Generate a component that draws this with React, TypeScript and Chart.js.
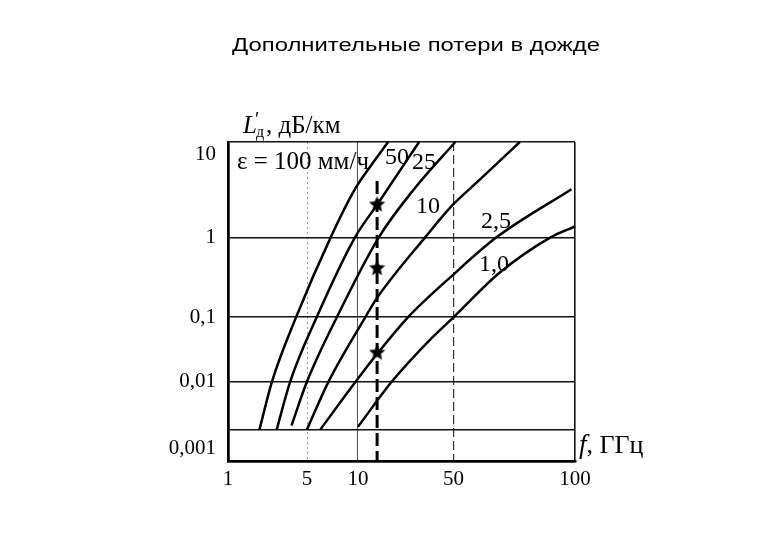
import React, { useEffect, useRef } from 'react';
import { Chart, Scale, registerables } from 'chart.js';

// ---------------- data ----------------
const TITLE = 'Дополнительные потери в дожде';
const Y_TITLE_MAIN = 'L';
const Y_TITLE_SUB = 'д';
const Y_TITLE_REST = ', дБ/км';
const X_TITLE_MAIN = 'f';
const X_TITLE_REST = ', ГГц';

const FREQ_TICKS = [1, 5, 10, 50, 100];
const FREQ_TICK_LABELS = ['1', '5', '10', '50', '100'];
const LOSS_TICKS = [0.001, 0.0025, 0.01, 0.1, 1, 10];
const LOSS_TICK_LABELS = ['0,001', '', '0,01', '0,1', '1', '10'];

// rain intensity curves (frequency GHz, specific loss dB/km)
const freq_100 = [1.9, 2.45, 4.0, 6.9, 9.6, 12.6, 16.6];
const loss_100 = [0.0025, 0.01, 0.1, 1, 3.2, 5.8, 10];
const freq_50 = [2.7, 3.55, 5.7, 9.6, 13.8, 28];
const loss_50 = [0.0025, 0.01, 0.1, 1, 2.2, 10];
const freq_25 = [3.65, 5.0, 7.5, 14.2, 25.7, 50.5];
const loss_25 = [0.0028, 0.01, 0.1, 1, 3.2, 10];
const freq_10 = [5.0, 6.7, 11.3, 13.8, 31, 49.5, 58, 73];
const loss_10 = [0.0025, 0.01, 0.1, 0.175, 1, 2.2, 4.0, 10];
const freq_2_5 = [6.0, 9.7, 14.0, 23.2, 49.6, 63.9, 98];
const loss_2_5 = [0.0025, 0.01, 0.028, 0.1, 0.34, 1, 3.2];
const freq_1_0 = [10, 17.7, 33.7, 50, 65, 87, 100];
const loss_1_0 = [0.0027, 0.01, 0.045, 0.1, 0.36, 1, 1.3];

const CURVE_FREQS = [freq_100, freq_50, freq_25, freq_10, freq_2_5, freq_1_0];
const CURVE_LOSSES = [loss_100, loss_50, loss_25, loss_10, loss_2_5, loss_1_0];

// curve labels
const CURVE_LABELS = ['ε = 100 мм/ч', '50', '25', '10', '2,5', '1,0'];
const CURVE_LABEL_FREQ = [1.2, 19.3, 30.4, 32.5, 63.7, 63];
const CURVE_LABEL_LOSS = [6.1, 6.9, 6.1, 2.1, 1.46, 0.455];

// marked frequency
const GUIDE_FREQ = [13.8, 13.8];
const GUIDE_LOSS = [3.9, 0.001];
const STAR_FREQ = [13.8, 13.8, 13.8];
const STAR_LOSS = [2.2, 0.41, 0.028];

// ---------------- non-uniform log axes of the original drawing ----------------
const AXIS_WARP: Record<string, { values: number[]; pos: number[]; ticks: number[] }> = {
  x: { values: [1, 5, 10, 50, 100], pos: [0, 0.2277, 0.3746, 0.6499, 1], ticks: FREQ_TICKS },
  y: { values: [0.001, 0.01, 0.1, 1, 10], pos: [0, 0.249, 0.4505, 0.7011, 1], ticks: LOSS_TICKS },
};

function toDecimal(w: { values: number[]; pos: number[] }, v: number) {
  const lv = Math.log10(Math.max(v, 1e-12));
  const L = w.values.map((a) => Math.log10(a));
  let i = 0;
  while (i < L.length - 2 && lv > L[i + 1]) i++;
  const t = (lv - L[i]) / (L[i + 1] - L[i]);
  return w.pos[i] + t * (w.pos[i + 1] - w.pos[i]);
}

function fromDecimal(w: { values: number[]; pos: number[] }, d: number) {
  const L = w.values.map((a) => Math.log10(a));
  let i = 0;
  while (i < w.pos.length - 2 && d > w.pos[i + 1]) i++;
  const t = (d - w.pos[i]) / (w.pos[i + 1] - w.pos[i]);
  return Math.pow(10, L[i] + t * (L[i + 1] - L[i]));
}

class WarpedLogScale extends Scale {
  static id = 'warpedLog';
  static defaults = {};
  parse(raw: any) {
    const v = Number(raw);
    return Number.isFinite(v) ? v : null;
  }
  determineDataLimits() {
    const w = AXIS_WARP[(this as any).id];
    (this as any).min = w.values[0];
    (this as any).max = w.values[w.values.length - 1];
  }
  buildTicks() {
    const w = AXIS_WARP[(this as any).id];
    return w.ticks.map((v) => ({ value: v }));
  }
  getLabelForValue(v: number) {
    return String(v);
  }
  getPixelForValue(v: number) {
    const w = AXIS_WARP[(this as any).id];
    return (this as any).getPixelForDecimal(toDecimal(w, v));
  }
  getValueForPixel(p: number) {
    const w = AXIS_WARP[(this as any).id];
    return fromDecimal(w, (this as any).getDecimalForPixel(p));
  }
}

Chart.register(...registerables, WarpedLogScale as any);

const SERIF = '"Liberation Serif", "Times New Roman", "DejaVu Serif", serif';
const SANS = '"Liberation Sans", Arial, "DejaVu Sans", sans-serif';

function makeStar(size: number) {
  const c = document.createElement('canvas');
  c.width = size;
  c.height = size;
  const g = c.getContext('2d')!;
  g.fillStyle = '#000';
  g.beginPath();
  for (let i = 0; i < 10; i++) {
    const r = i % 2 === 0 ? size / 2 : size / 4.4;
    const a = -Math.PI / 2 + (i * Math.PI) / 5;
    g.lineTo(size / 2 + r * Math.cos(a), size / 2 + r * Math.sin(a));
  }
  g.closePath();
  g.fill();
  return c;
}

const xGridStyle = (v: number) => {
  if (v === 5) return { color: '#9a9a9a', width: 1, dash: [2, 3] };
  if (v === 10) return { color: '#555', width: 1, dash: [] as number[] };
  if (v === 50) return { color: '#333', width: 1.2, dash: [9, 4] };
  if (v === 100) return { color: '#111', width: 1.6, dash: [] as number[] };
  return { color: '#000', width: 2.5, dash: [] as number[] };
};

const textPlugin = {
  id: 'chartTexts',
  afterDraw(chart: any) {
    const ctx: CanvasRenderingContext2D = chart.ctx;
    const xs = chart.scales.x;
    const ys = chart.scales.y;
    const area = chart.chartArea;
    ctx.save();
    ctx.fillStyle = '#000';

    // title
    ctx.font = `19px ${SANS}`;
    ctx.textAlign = 'center';
    ctx.textBaseline = 'middle';
    const tw = ctx.measureText(TITLE).width;
    ctx.save();
    ctx.translate(416, 46);
    ctx.scale(368 / tw, 1);
    ctx.fillText(TITLE, 0, 0);
    ctx.restore();

    // y axis title
    ctx.textAlign = 'left';
    ctx.textBaseline = 'alphabetic';
    let x = area.left + 15;
    const base = area.top - 9;
    ctx.font = `italic 25px ${SERIF}`;
    ctx.fillText(Y_TITLE_MAIN, x, base);
    const wL = ctx.measureText(Y_TITLE_MAIN).width;
    ctx.font = `20px ${SERIF}`;
    ctx.fillText('′', x + wL - 2, base - 7);
    ctx.font = `16px ${SERIF}`;
    ctx.fillText(Y_TITLE_SUB, x + wL - 1, base + 4);
    const wS = ctx.measureText(Y_TITLE_SUB).width;
    ctx.font = `25px ${SERIF}`;
    ctx.fillText(Y_TITLE_REST, x + wL + wS + 1, base);

    // x axis title
    x = area.right + 4;
    const xb = area.bottom - 8;
    ctx.font = `italic 27px ${SERIF}`;
    ctx.fillText(X_TITLE_MAIN, x, xb);
    const wf = ctx.measureText(X_TITLE_MAIN).width;
    ctx.font = `26px ${SERIF}`;
    ctx.fillText(X_TITLE_REST, x + wf, xb);

    // curve labels
    ctx.textBaseline = 'middle';
    CURVE_LABELS.forEach((t, i) => {
      ctx.font = i === 0 ? `25px ${SERIF}` : `24px ${SERIF}`;
      ctx.textAlign = i === 0 ? 'left' : 'center';
      ctx.fillText(t, xs.getPixelForValue(CURVE_LABEL_FREQ[i]), ys.getPixelForValue(CURVE_LABEL_LOSS[i]));
    });
    ctx.restore();
  },
};

export default function App() {
  const ref = useRef<HTMLCanvasElement | null>(null);

  useEffect(() => {
    document.body.style.margin = '0';
    const canvas = ref.current;
    if (!canvas) return;
    const star = makeStar(17);

    const curveSets = CURVE_FREQS.map((fs, k) => ({
      label: CURVE_LABELS[k],
      data: fs.map((f, i) => ({ x: f, y: CURVE_LOSSES[k][i] })),
      showLine: true,
      borderColor: '#000',
      backgroundColor: '#000',
      borderWidth: 2.5,
      pointRadius: 0,
      cubicInterpolationMode: 'monotone' as const,
      fill: false,
    }));

    const chart = new Chart(canvas, {
      type: 'scatter',
      data: {
        datasets: [
          ...curveSets,
          {
            label: 'guide',
            data: GUIDE_FREQ.map((f, i) => ({ x: f, y: GUIDE_LOSS[i] })),
            showLine: true,
            borderColor: '#000',
            borderWidth: 3,
            borderDash: [13, 5],
            pointRadius: 0,
            fill: false,
          },
          {
            label: 'stars',
            data: STAR_FREQ.map((f, i) => ({ x: f, y: STAR_LOSS[i] })),
            showLine: false,
            pointStyle: star as any,
            pointRadius: 8,
            borderColor: '#000',
            backgroundColor: '#000',
          },
        ] as any,
      },
      options: {
        responsive: false,
        animation: false,
        devicePixelRatio: 1,
        layout: { padding: { left: 100, right: 205, top: 142, bottom: 40 } },
        plugins: {
          legend: { display: false },
          tooltip: { enabled: false },
          title: { display: false },
        },
        scales: {
          x: {
            type: 'warpedLog' as any,
            position: 'bottom',
            afterFit: (s: any) => {
              s.height = 39;
            },
            grid: {
              drawTicks: false,
              color: (c: any) => (c.tick ? xGridStyle(c.tick.value).color : '#000'),
              lineWidth: (c: any) => (c.tick ? xGridStyle(c.tick.value).width : 1),
            },
            border: {
              display: true,
              color: '#000',
              width: 2.5,
              dash: (c: any) => (c.tick ? xGridStyle(c.tick.value).dash : []),
            },
            ticks: {
              autoSkip: false,
              maxRotation: 0,
              padding: 6,
              color: '#000',
              font: { family: SERIF, size: 21 },
              callback: (v: any) => {
                const i = FREQ_TICKS.indexOf(Number(v));
                return i >= 0 ? FREQ_TICK_LABELS[i] : '';
              },
            },
          } as any,
          y: {
            type: 'warpedLog' as any,
            position: 'left',
            afterFit: (s: any) => {
              s.width = 128;
            },
            grid: {
              drawTicks: false,
              color: '#111',
              lineWidth: (c: any) => (c.tick && c.tick.value === 0.001 ? 2.5 : 1.6),
            },
            border: { display: true, color: '#000', width: 2.5 },
            ticks: {
              autoSkip: false,
              padding: 12,
              color: '#000',
              font: { family: SERIF, size: 21 },
              callback: (v: any) => {
                const i = LOSS_TICKS.indexOf(Number(v));
                if (i < 0) return '';
                const t = LOSS_TICK_LABELS[i];
                if (i === 0) return [t, ''];
                if (i === LOSS_TICKS.length - 1) return ['', t];
                return t;
              },
            },
          } as any,
        },
      },
      plugins: [textPlugin],
    });

    return () => chart.destroy();
  }, []);

  return (
    <div style={{ width: 780, height: 540, background: '#fff' }}>
      <canvas ref={ref} width={780} height={540} style={{ display: 'block' }} />
    </div>
  );
}
